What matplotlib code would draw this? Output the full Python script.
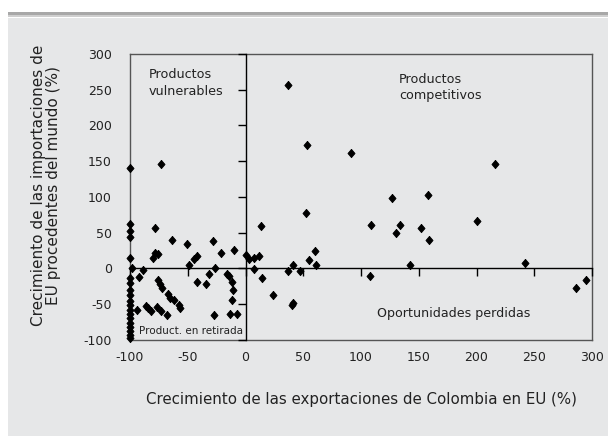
import matplotlib.pyplot as plt
from matplotlib.patches import Rectangle

plt.rcParams['font.family'] = ['DejaVu Sans']
plt.rcParams['axes.unicode_minus'] = False

# crecimiento exportaciones Colombia (x) vs importaciones EU del mundo (y), en %
x_vals = [-100, -100, -100, -100, -100, -100, -100, -100, -100, -100,
          -100, -100, -100, -100, -100, -100, -100, -100, -100, -98,
          -94, -92, -89, -86, -84, -82, -77, -73, -68,
          -78, -73, -64, -51, -28, -80, -78, -76,
          -76, -74, -72, -67, -65, -62, -58, -57,
          -49, -45, -42, -42, -34, -32, -26, -21, -10, -27,
          -16, -14, -12, -11, -12, -13, -7,
          0, 3, 7, 12, 7, 13, 14, 24, 40, 41, 37, 41, 47, 52, 55, 60, 61,
          37, 53, 91, 127, 158, 109, 134, 130, 152, 159, 108, 142,
          216, 200, 242, 286, 295]
y_vals = [141, 62, 52, 44, 15, -13, -20, -30, -38, -46,
          -52, -58, -64, -70, -76, -82, -88, -93, -97, 0,
          -58, -12, -3, -53, -56, -60, -54, -60, -65,
          57, 146, 40, 34, 38, 14, 22, 20,
          -16, -22, -27, -36, -41, -45, -51, -55,
          5, 13, 17, -19, -22, -8, 0, 21, 25, -65,
          -8, -11, -19, -30, -45, -64, -64,
          18, 13, 15, 17, -1, 59, -13, -37, -52, -49, -4, 4, -4, 77, 12, 24, 4,
          256, 172, 161, 99, 102, 60, 60, 49, 57, 40, -11, 5,
          146, 66, 7, -28, -16]

x_ticks = [-100, -50, 0, 50, 100, 150, 200, 250, 300]
y_ticks = [-100, -50, 0, 50, 100, 150, 200, 250, 300]

bg = '#e6e7e8'
fig = plt.figure(figsize=(6.08, 4.36), dpi=100, facecolor='white')
fig.patches.append(Rectangle((8 / 608, 0), 1, 1 - 18 / 436, transform=fig.transFigure,
                             facecolor=bg, edgecolor='none', zorder=-5))
fig.patches.append(Rectangle((8 / 608, 1 - 15 / 436), 1, 3 / 436, transform=fig.transFigure,
                             facecolor='#a8a8a8', edgecolor='none', zorder=-5))
fig.patches.append(Rectangle((8 / 608, 1 - 17.5 / 436), 1, 2.5 / 436, transform=fig.transFigure,
                             facecolor='#cfcfcf', edgecolor='none', zorder=-5))

# rombo un poco mas alto que ancho
diamond = [(0, 1), (0.85, 0), (0, -1), (-0.85, 0), (0, 1)]

pos = [130 / 608, 1 - 339.7 / 436, 462 / 608, 285.7 / 436]
ax = fig.add_axes(pos)
ax.set_facecolor(bg)
ax.plot(x_vals, y_vals, linestyle='none', marker=diamond, markersize=6,
        color='black', markeredgewidth=0.6, clip_on=False, zorder=5)
ax.set_xlim(-100, 300)
ax.set_ylim(-100, 300)
ax.set_xticks(x_ticks)
ax.set_yticks(y_ticks)
ax.tick_params(length=0, labelsize=9, colors='#222222')
ax.tick_params(axis='y', pad=13)
ax.tick_params(axis='x', pad=8)
for s in ax.spines.values():
    s.set_color('#555555')
    s.set_linewidth(1)

ax.set_xlabel('Crecimiento de las exportaciones de Colombia en EU (%)',
              fontsize=10.8, color='#222222', labelpad=20)
ax.set_ylabel('Crecimiento de las importaciones de\nEU procedentes del mundo (%)',
              fontsize=11, color='#222222', labelpad=16, linespacing=1.0, y=0.54)

# ejes cruzando en cero, con marcas hacia fuera
ax2 = fig.add_axes(pos)
ax2.patch.set_visible(False)
ax2.set_xlim(-100, 300)
ax2.set_ylim(-100, 300)
ax2.set_xticks(x_ticks)
ax2.set_yticks(y_ticks)
ax2.spines['top'].set_visible(False)
ax2.spines['right'].set_visible(False)
ax2.spines['left'].set_position(('data', 0))
ax2.spines['bottom'].set_position(('data', 0))
ax2.spines['left'].set_linewidth(1)
ax2.spines['bottom'].set_linewidth(1)
ax2.tick_params(direction='out', length=6, width=1, labelleft=False, labelbottom=False)

txt = dict(fontsize=9.2, color='#222222', va='top', ha='left', linespacing=1.35)
ax.text(-84, 280, 'Productos\nvulnerables', **txt)
ax.text(133, 274, 'Productos\ncompetitivos', **txt)
ax.text(114, -63, 'Oportunidades perdidas', fontsize=9.1, color='#222222', va='center')
ax.text(-92, -88, 'Product. en retirada', fontsize=7.5, color='#222222', va='center')

fig.savefig('out.png', dpi=100, facecolor=fig.get_facecolor())
